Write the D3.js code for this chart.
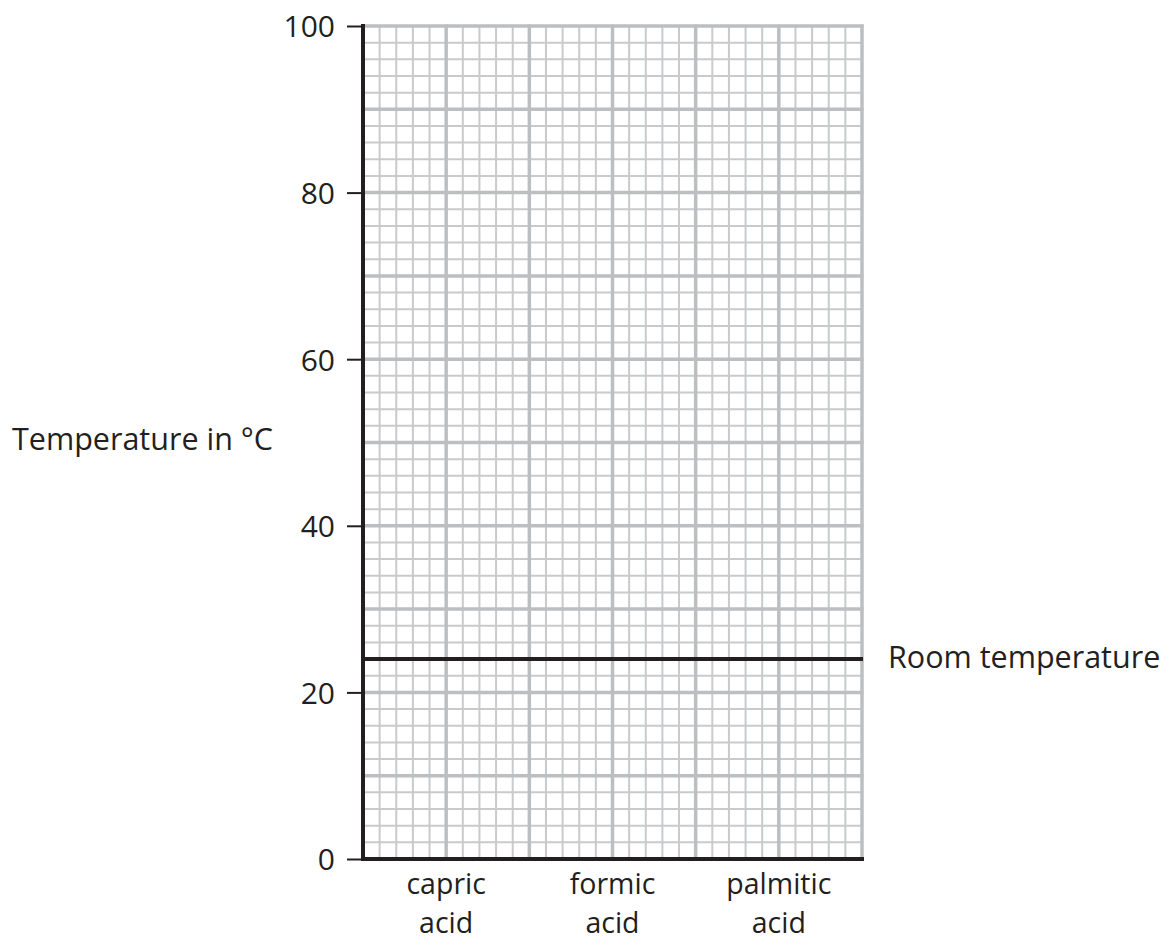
<!DOCTYPE html>
<html>
<head>
<meta charset="utf-8">
<script src="https://cdn.jsdelivr.net/npm/d3@7"></script>
<style>
  html, body { margin: 0; padding: 0; background: #fff; }
  svg { display: block; }
  text { font-family: "Open Sans", "Noto Sans", sans-serif; fill: #231f20; }
</style>
</head>
<body>
<svg id="chart" width="1171" height="943"></svg>
<script>
const categories = ["capric acid", "formic acid", "palmitic acid"];
const yTickValues = [0, 20, 40, 60, 80, 100];
const yDomain = [0, 100];
const roomTemperature = 24;
const roomLabel = "Room temperature";
const yTitle = "Temperature in \u00B0C";

(function () {
const svg = d3.select("#chart");
const mLeft = 363, mRight = 862, mTop = 26, mBottom = 859;
const fs = 30.5;

const y = d3.scaleLinear().domain(yDomain).range([mBottom, mTop]);
const x = d3.scaleBand().domain(categories).range([mLeft, mRight]).padding(0);
const gx = d3.scaleLinear().domain([0, 30]).range([mLeft, mRight]);

const grid = svg.append("g");
// minor grid
const minorX = d3.range(0, 31).filter(d => d % 5 !== 0);
const minorY = d3.range(0, 101, 2).filter(d => d % 10 !== 0);
grid.selectAll("line.mx").data(minorX).join("line").attr("class", "mx")
  .attr("x1", d => gx(d)).attr("x2", d => gx(d))
  .attr("y1", mTop).attr("y2", mBottom)
  .attr("stroke", "#c9cacc").attr("stroke-width", 2);
grid.selectAll("line.my").data(minorY).join("line").attr("class", "my")
  .attr("y1", d => y(d)).attr("y2", d => y(d))
  .attr("x1", mLeft).attr("x2", mRight)
  .attr("stroke", "#c9cacc").attr("stroke-width", 2);
// major grid
const majorX = d3.range(0, 31, 5);
const majorY = d3.range(0, 101, 10);
grid.selectAll("line.Mx").data(majorX).join("line").attr("class", "Mx")
  .attr("x1", d => gx(d)).attr("x2", d => gx(d))
  .attr("y1", mTop - 1.5).attr("y2", mBottom)
  .attr("stroke", "#bcbec0").attr("stroke-width", 3.5);
grid.selectAll("line.My").data(majorY).join("line").attr("class", "My")
  .attr("y1", d => y(d)).attr("y2", d => y(d))
  .attr("x1", mLeft).attr("x2", mRight + 1.5)
  .attr("stroke", "#bcbec0").attr("stroke-width", 3.5);

// room temperature line
svg.append("line")
  .attr("x1", mLeft).attr("x2", mRight + 1)
  .attr("y1", y(roomTemperature)).attr("y2", y(roomTemperature))
  .attr("stroke", "#231f20").attr("stroke-width", 4);
svg.append("text")
  .attr("x", 888).attr("y", y(roomTemperature) + 9)
  .attr("font-size", fs).text(roomLabel);

// y axis
const yAxis = d3.axisLeft(y).tickValues(yTickValues).tickSize(16).tickPadding(12).tickFormat(d3.format("d"));
const ya = svg.append("g").attr("transform", `translate(${mLeft},0)`).call(yAxis);
ya.attr("font-size", null).attr("font-family", null);
ya.select(".domain").remove();
ya.selectAll(".tick line").attr("stroke", "#231f20").attr("stroke-width", 2);
ya.selectAll(".tick text").attr("font-size", 30).attr("fill", "#231f20")
  .attr("dy", "0.36em");

// axis lines
svg.append("line").attr("x1", mLeft).attr("x2", mLeft)
  .attr("y1", mTop - 2).attr("y2", mBottom + 2)
  .attr("stroke", "#231f20").attr("stroke-width", 4);
svg.append("line").attr("x1", mLeft - 2).attr("x2", mRight + 2)
  .attr("y1", mBottom).attr("y2", mBottom)
  .attr("stroke", "#231f20").attr("stroke-width", 4);

// x category labels
const xl = svg.append("g").selectAll("text").data(categories).join("text")
  .attr("text-anchor", "middle")
  .attr("x", d => x(d) + x.bandwidth() / 2)
  .attr("y", 894)
  .attr("font-size", 28.5);
xl.each(function(d) {
  const parts = d.split(" ");
  const t = d3.select(this);
  t.append("tspan").attr("x", x(d) + x.bandwidth() / 2).attr("dy", 0).text(parts[0]);
  t.append("tspan").attr("x", x(d) + x.bandwidth() / 2).attr("dy", 39).text(parts[1]);
});

// y title
svg.append("text").attr("x", 12).attr("y", 450).attr("font-size", fs).text(yTitle);
})();
</script>
</body>
</html>
